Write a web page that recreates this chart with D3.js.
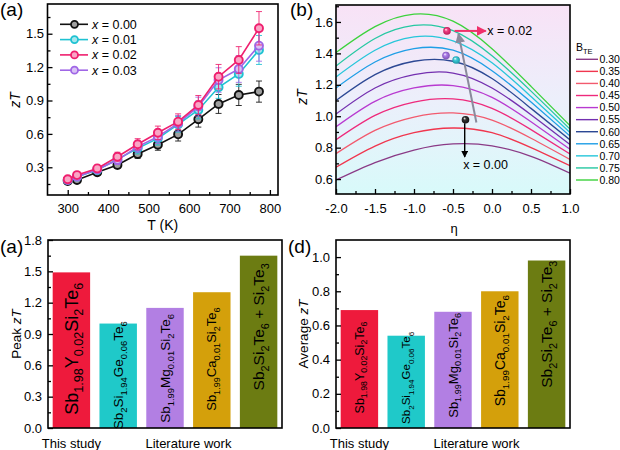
<!DOCTYPE html>
<html><head><meta charset="utf-8">
<script src="https://cdn.jsdelivr.net/npm/d3@7"></script>
<style>
body{margin:0;background:#fff;}
svg{display:block;font-family:"Liberation Sans",Arial,sans-serif;}
text{white-space:pre;}
</style></head><body>
<svg id="chart" width="620" height="450"></svg>
<script>
// ================= DATA =================
// Panel (a): zT vs T
const temps = [300, 323, 373, 423, 473, 523, 573, 623, 673, 723, 773];
const seriesLabels = ["0.00", "0.01", "0.02", "0.03"];
const zT_x000 = [0.177, 0.186, 0.255, 0.32, 0.42, 0.503, 0.596, 0.731, 0.869, 0.95, 0.98];
const zT_x001 = [0.186, 0.216, 0.276, 0.372, 0.47, 0.56, 0.686, 0.815, 1.019, 1.138, 1.354];
const zT_x002 = [0.192, 0.23, 0.29, 0.395, 0.507, 0.61, 0.71, 0.86, 1.114, 1.264, 1.549];
const zT_x003 = [0.186, 0.216, 0.28, 0.365, 0.485, 0.575, 0.695, 0.845, 1.084, 1.183, 1.393];
const err_x000 = [0.02, 0.02, 0.025, 0.03, 0.04, 0.05, 0.06, 0.07, 0.085, 0.095, 0.095];
const err_x001 = [0.02, 0.02, 0.03, 0.04, 0.05, 0.06, 0.07, 0.08, 0.1, 0.11, 0.13];
const err_x002 = [0.02, 0.02, 0.03, 0.04, 0.05, 0.06, 0.07, 0.085, 0.11, 0.12, 0.15];
const err_x003 = [0.02, 0.02, 0.03, 0.04, 0.05, 0.06, 0.07, 0.085, 0.11, 0.12, 0.14];
const tempTicks = [300, 400, 500, 600, 700, 800];
const tempMinorTicks = [350, 450, 550, 650, 750];
const zTTicksA = [0.3, 0.6, 0.9, 1.2, 1.5];
const zTMinorTicksA = [0.15, 0.45, 0.75, 1.05, 1.35, 1.65];

// Panel (b): zT vs reduced Fermi level eta for different B_TE
const etaPoints = [-2, -1.5, -1, -0.5, 0, 0.5, 1];
const bTE = ["0.30", "0.35", "0.40", "0.45", "0.50", "0.55", "0.60", "0.65", "0.70", "0.75", "0.80"];
const curve030 = [0.594, 0.705, 0.785, 0.824, 0.812, 0.745, 0.638];
const curve035 = [0.675, 0.81, 0.895, 0.925, 0.895, 0.80, 0.685];
const curve040 = [0.762, 0.91, 0.995, 1.021, 0.975, 0.86, 0.725];
const curve045 = [0.85, 1.005, 1.09, 1.11, 1.05, 0.915, 0.76];
const curve050 = [0.933, 1.095, 1.18, 1.195, 1.12, 0.965, 0.79];
const curve055 = [1.014, 1.18, 1.265, 1.275, 1.18, 1.01, 0.82];
const curve060 = [1.10, 1.265, 1.35, 1.35, 1.24, 1.05, 0.85];
const curve065 = [1.18, 1.345, 1.43, 1.42, 1.29, 1.09, 0.874];
const curve070 = [1.25, 1.42, 1.505, 1.48, 1.34, 1.125, 0.897];
const curve075 = [1.32, 1.495, 1.578, 1.545, 1.385, 1.16, 0.918];
const curve080 = [1.405, 1.57, 1.65, 1.605, 1.43, 1.19, 0.94];
const etaTicks = [-2, -1.5, -1, -0.5, 0, 0.5, 1];
const etaMinorTicks = [-1.75, -1.25, -0.75, -0.25, 0.25, 0.75];
const zTTicksB = [0.6, 0.8, 1.0, 1.2, 1.4, 1.6];
const zTMinorTicksB = [0.7, 0.9, 1.1, 1.3, 1.5, 1.7];
const ballSeries = ["0.00", "0.01", "0.03", "0.02"];
const ballEta = [-0.34, -0.46, -0.59, -0.577];
const ballZT = [0.978, 1.358, 1.386, 1.543];
const annotLabels = ["x = 0.02", "x = 0.00"];

// Panels (c) and (d): comparison bars
const compounds = [
  [["Sb", 0], ["1.98", 1], ["Y", 0], ["0.02", 1], ["Si", 0], ["2", 1], ["Te", 0], ["6", 1]],
  [["Sb", 0], ["2", 1], ["Si", 0], ["1.94", 1], ["Ge", 0], ["0.06", 1], ["Te", 0], ["6", 1]],
  [["Sb", 0], ["1.99", 1], ["Mg", 0], ["0.01", 1], ["Si", 0], ["2", 1], ["Te", 0], ["6", 1]],
  [["Sb", 0], ["1.99", 1], ["Ca", 0], ["0.01", 1], ["Si", 0], ["2", 1], ["Te", 0], ["6", 1]],
  [["Sb", 0], ["2", 1], ["Si", 0], ["2", 1], ["Te", 0], ["6", 1], [" + Si", 0], ["2", 1], ["Te", 0], ["3", 1]]
];
const peakZT = [1.49, 1.00, 1.15, 1.30, 1.65];
const avgZT = [0.69, 0.54, 0.68, 0.80, 0.98];
const peakTicks = [0.0, 0.3, 0.6, 0.9, 1.2, 1.5, 1.8];
const peakMinorTicks = [0.15, 0.45, 0.75, 1.05, 1.35, 1.65];
const avgTicks = [0.0, 0.2, 0.4, 0.6, 0.8, 1.0];
const avgMinorTicks = [0.1, 0.3, 0.5, 0.7, 0.9];
const groupLabels = ["This study", "Literature work"];

// ================= STYLE =================
const seriesColors = {"0.00": "#111111", "0.01": "#1fc2d2", "0.02": "#ef1f6e", "0.03": "#a066e6"};
const bteColors = ["#8a3a86", "#f0364e", "#f25a6e", "#ee2a7c", "#b83ad0", "#7430b0", "#2c4894", "#1e9ee6", "#26c6da", "#26c8a2", "#3cd23c"];
const barColors = ["#ee1a3c", "#1fc9c9", "#b27fe3", "#d4a00b", "#6c7c12"];
const labelSizeC = [18, 13.5, 13.5, 13, 15.5];
const labelSizeD = [12.5, 11.5, 13, 14, 15.5];
const labelShiftC = [-1.5, -0.5, 0.5, -1, -15];
const labelShiftD = [-1.5, -4, -4.5, -9, -20];

// ================= DRAW =================
const svg = d3.select("#chart");
const defs = svg.append("defs");

function frame(x0, y0, x1, y1) {
  svg.append("rect").attr("x", x0).attr("y", y0).attr("width", x1 - x0).attr("height", y1 - y0)
    .attr("fill", "none").attr("stroke", "#000").attr("stroke-width", 1.6);
}
function styleAxis(g, fs) {
  g.select(".domain").remove();
  g.selectAll("line").attr("stroke", "#000").attr("stroke-width", 1.3);
  g.selectAll("text").attr("font-size", fs).attr("fill", "#000")
    .attr("font-family", '"Liberation Sans", Arial, sans-serif');
}
function yAxis(x0, y, major, minor, pad, fmt) {
  const g = svg.append("g").attr("transform", `translate(${x0},0)`)
    .call(d3.axisLeft(y).tickValues(major).tickSize(-5).tickPadding(pad).tickFormat(fmt));
  styleAxis(g, 13);
  if (minor) {
    const m = svg.append("g").attr("transform", `translate(${x0},0)`)
      .call(d3.axisLeft(y).tickValues(minor).tickSize(-3).tickFormat(""));
    styleAxis(m, 13);
  }
}
function xAxis(y0, x, major, minor, pad, fmt) {
  const g = svg.append("g").attr("transform", `translate(0,${y0})`)
    .call(d3.axisBottom(x).tickValues(major).tickSize(-5).tickPadding(pad).tickFormat(fmt));
  styleAxis(g, 13);
  if (minor) {
    const m = svg.append("g").attr("transform", `translate(0,${y0})`)
      .call(d3.axisBottom(x).tickValues(minor).tickSize(-3).tickFormat(""));
    styleAxis(m, 13);
  }
}
function panelTag(txt, x, y) {
  svg.append("text").attr("x", x).attr("y", y).attr("font-size", 19).text(txt);
}
function lighten(c, k) { return d3.interpolateRgb(c, "#ffffff")(k); }

// ---------- Panel (a) top-left ----------
const A = {x0: 47.5, x1: 278, y0: 4, y1: 195};
const xA = d3.scaleLinear().domain([250, 820]).range([A.x0, A.x1]);
const yA = d3.scaleLinear().domain([0.051, 1.767]).range([A.y1, A.y0]);
const seriesA = [
  {name: "0.00", values: zT_x000, err: err_x000},
  {name: "0.01", values: zT_x001, err: err_x001},
  {name: "0.03", values: zT_x003, err: err_x003},
  {name: "0.02", values: zT_x002, err: err_x002}
];
const lineA = d3.line().x(d => xA(d[0])).y(d => yA(d[1]));
seriesA.forEach(s => {
  const col = seriesColors[s.name];
  const pts = temps.map((t, i) => [t, s.values[i], s.err[i]]);
  const g = svg.append("g");
  pts.forEach(p => {
    const xx = xA(p[0]), yt = yA(p[1] + p[2]), yb = yA(p[1] - p[2]);
    g.append("line").attr("x1", xx).attr("x2", xx).attr("y1", yt).attr("y2", yb).attr("stroke", col).attr("stroke-width", 1).attr("opacity", 0.85);
    [yt, yb].forEach(yy => g.append("line").attr("x1", xx - 3).attr("x2", xx + 3).attr("y1", yy).attr("y2", yy).attr("stroke", col).attr("stroke-width", 1).attr("opacity", 0.85));
  });
  g.append("path").datum(pts).attr("d", lineA).attr("fill", "none").attr("stroke", col).attr("stroke-width", 1.6);
  g.selectAll("circle").data(pts).join("circle")
    .attr("cx", d => xA(d[0])).attr("cy", d => yA(d[1])).attr("r", 4)
    .attr("fill", lighten(col, 0.6)).attr("stroke", col).attr("stroke-width", 1.9);
});
xAxis(A.y1, xA, tempTicks, tempMinorTicks, 9, d3.format("d"));
yAxis(A.x0, yA, zTTicksA, zTMinorTicksA, 3.5, d3.format(".1f"));
frame(A.x0, A.y0, A.x1, A.y1);
// legend (a)
seriesLabels.forEach((name, i) => {
  const col = seriesColors[name];
  const yy = 24.3 + i * 15.3;
  svg.append("line").attr("x1", 60).attr("x2", 88).attr("y1", yy).attr("y2", yy).attr("stroke", col).attr("stroke-width", 1.6);
  svg.append("circle").attr("cx", 74.5).attr("cy", yy).attr("r", 3.5).attr("fill", lighten(col, 0.6)).attr("stroke", col).attr("stroke-width", 1.8);
  const t = svg.append("text").attr("x", 92).attr("y", yy + 4.5).attr("font-size", 12.5);
  t.append("tspan").attr("font-style", "italic").text("x");
  t.append("tspan").text(" = " + name);
});
// axis titles (a)
{
  const t = svg.append("text").attr("transform", "translate(20,100) rotate(-90)").attr("text-anchor", "middle").attr("font-size", 14);
  t.append("tspan").attr("font-style", "italic").text("zT");
  svg.append("text").attr("x", (A.x0 + A.x1) / 2).attr("y", 230).attr("text-anchor", "middle").attr("font-size", 14).text("T (K)");
}
panelTag("(a)", 0, 16);

// ---------- Panel (b) top-right ----------
const B = {x0: 336, x1: 570, y0: 5, y1: 194};
const xB = d3.scaleLinear().domain([-2, 1]).range([B.x0, B.x1]);
const yB = d3.scaleLinear().domain([0.505, 1.708]).range([B.y1, B.y0]);
const bg = defs.append("linearGradient").attr("id", "bgB").attr("x1", 0).attr("y1", 0).attr("x2", 0).attr("y2", 1);
bg.append("stop").attr("offset", "0%").attr("stop-color", "#f8e2f6");
bg.append("stop").attr("offset", "50%").attr("stop-color", "#eceffb");
bg.append("stop").attr("offset", "100%").attr("stop-color", "#d8fafa");
svg.append("rect").attr("x", B.x0).attr("y", B.y0).attr("width", B.x1 - B.x0).attr("height", B.y1 - B.y0).attr("fill", "url(#bgB)");
defs.append("clipPath").attr("id", "clipB").append("rect").attr("x", B.x0).attr("y", B.y0).attr("width", B.x1 - B.x0).attr("height", B.y1 - B.y0);
const curvesB = [curve030, curve035, curve040, curve045, curve050, curve055, curve060, curve065, curve070, curve075, curve080];
const lineB = d3.line().x(d => xB(d[0])).y(d => yB(d[1])).curve(d3.curveNatural);
const gB = svg.append("g").attr("clip-path", "url(#clipB)");
curvesB.forEach((vals, i) => {
  gB.append("path").datum(etaPoints.map((e, j) => [e, vals[j]])).attr("d", lineB)
    .attr("fill", "none").attr("stroke", bteColors[i]).attr("stroke-width", 1.3);
});
// arrows
function arrowHead(id, color) {
  defs.append("marker").attr("id", id).attr("viewBox", "0 0 10 10").attr("refX", 9).attr("refY", 5)
    .attr("markerWidth", 5).attr("markerHeight", 5).attr("markerUnits", "strokeWidth").attr("orient", "auto")
    .append("path").attr("d", "M0,0 L10,5 L0,10 Z").attr("fill", color);
}
arrowHead("arrGray", "#8a8a9c");
arrowHead("arrPink", "#f0306a");
arrowHead("arrBlack", "#000");
svg.append("line").attr("x1", xB(-0.2)).attr("y1", yB(0.96)).attr("x2", xB(-0.43)).attr("y2", yB(1.525))
  .attr("stroke", "#8a8a9c").attr("stroke-width", 2).attr("marker-end", "url(#arrGray)");
svg.append("line").attr("x1", xB(-0.48)).attr("y1", yB(1.543)).attr("x2", xB(-0.08)).attr("y2", yB(1.543))
  .attr("stroke", "#f0306a").attr("stroke-width", 2).attr("marker-end", "url(#arrPink)");
svg.append("line").attr("x1", xB(-0.35)).attr("y1", yB(0.955)).attr("x2", xB(-0.35)).attr("y2", yB(0.74))
  .attr("stroke", "#000").attr("stroke-width", 1.4).attr("marker-end", "url(#arrBlack)");
// balls
ballSeries.forEach((name, i) => {
  const col = seriesColors[name];
  const gid = "ball" + i;
  const rg = defs.append("radialGradient").attr("id", gid).attr("cx", "50%").attr("cy", "50%").attr("r", "55%").attr("fx", "35%").attr("fy", "30%");
  rg.append("stop").attr("offset", "0%").attr("stop-color", "#ffffff");
  rg.append("stop").attr("offset", "35%").attr("stop-color", lighten(col, 0.15));
  rg.append("stop").attr("offset", "100%").attr("stop-color", d3.color(col).darker(0.8));
  svg.append("circle").attr("cx", xB(ballEta[i])).attr("cy", yB(ballZT[i])).attr("r", 3.8).attr("fill", `url(#${gid})`);
});
svg.append("text").attr("x", xB(-0.06)).attr("y", yB(1.543) + 4.5).attr("font-size", 12.5).text(annotLabels[0]);
svg.append("text").attr("x", xB(-0.37)).attr("y", yB(0.69) + 4.5).attr("font-size", 12.5).text(annotLabels[1]);
xAxis(B.y1, xB, etaTicks, etaMinorTicks, 9.5, d => d.toFixed(1));
yAxis(B.x0, yB, zTTicksB, zTMinorTicksB, 3, d3.format(".1f"));
frame(B.x0, B.y0, B.x1, B.y1);
// legend (b)
{
  const t = svg.append("text").attr("x", 576).attr("y", 51).attr("font-size", 10.5);
  t.append("tspan").text("B");
  t.append("tspan").attr("font-size", 7.5).attr("dy", 2.5).text("TE");
  bTE.forEach((b, i) => {
    const yy = 59.3 + i * 12.07;
    svg.append("line").attr("x1", 576).attr("x2", 598).attr("y1", yy).attr("y2", yy).attr("stroke", bteColors[i]).attr("stroke-width", 1.4);
    svg.append("text").attr("x", 599.5).attr("y", yy + 3.8).attr("font-size", 10.5).text(b);
  });
  const z = svg.append("text").attr("transform", "translate(307,97) rotate(-90)").attr("text-anchor", "middle").attr("font-size", 14);
  z.append("tspan").attr("font-style", "italic").text("zT");
  svg.append("text").attr("x", 454).attr("y", 233).attr("text-anchor", "middle").attr("font-size", 13).text("\u03b7");
}
panelTag("(b)", 290, 16);

// ---------- Bar panels ----------
function barLabel(parts, cx, cy, fs) {
  const t = svg.append("text").attr("transform", `translate(${cx + 0.36 * fs},${cy}) rotate(-90)`)
    .attr("text-anchor", "middle").attr("font-size", fs).attr("fill", "#000");
  let shift = 0;
  parts.forEach(([s, sub]) => {
    const ts = t.append("tspan").text(s);
    if (sub) {
      ts.attr("font-size", fs * 0.7);
      const target = fs * 0.28;
      if (target - shift !== 0) ts.attr("dy", target - shift);
      shift = target;
    } else if (shift) {
      ts.attr("dy", -shift);
      shift = 0;
    }
  });
}
function barPanel(P, values, domainMax, major, minor, sizes, shifts, title, titleX) {
  const x = d3.scaleBand().domain(d3.range(values.length)).range([P.x0, P.x1]).paddingInner(0.2).paddingOuter(0.1);
  const y = d3.scaleLinear().domain([0, domainMax]).range([P.y1, P.y0]);
  svg.append("g").selectAll("rect").data(values).join("rect")
    .attr("x", (d, i) => x(i)).attr("width", x.bandwidth())
    .attr("y", d => y(d)).attr("height", d => y(0) - y(d))
    .attr("fill", (d, i) => barColors[i]);
  values.forEach((v, i) => {
    barLabel(compounds[i], x(i) + x.bandwidth() / 2, (y(v) + y(0)) / 2 + shifts[i], sizes[i]);
  });
  yAxis(P.x0, y, major, minor, 6, d3.format(".1f"));
  frame(P.x0, P.y0, P.x1, P.y1);
  const c0 = x(0) + x.bandwidth() / 2;
  const c1 = x(1) + x.bandwidth() / 2, c4 = x(4) + x.bandwidth() / 2;
  svg.append("text").attr("x", c0).attr("y", 447.5).attr("text-anchor", "middle").attr("font-size", 13).text(groupLabels[0]);
  svg.append("text").attr("x", (c1 + c4) / 2).attr("y", 447.5).attr("text-anchor", "middle").attr("font-size", 13).text(groupLabels[1]);
  const t = svg.append("text").attr("transform", `translate(${titleX},${(P.y0 + P.y1) / 2}) rotate(-90)`).attr("text-anchor", "middle").attr("font-size", 13.5);
  t.append("tspan").text(title + " ");
  t.append("tspan").attr("font-style", "italic").text("zT");
}
barPanel({x0: 48, x1: 282, y0: 240, y1: 428}, peakZT, 1.8, peakTicks, peakMinorTicks, labelSizeC, labelShiftC, "Peak", 21);
barPanel({x0: 336, x1: 570, y0: 240, y1: 428}, avgZT, 1.1, avgTicks, avgMinorTicks, labelSizeD, labelShiftD, "Average", 308);
panelTag("(a)", 0, 253);
panelTag("(d)", 288, 253);
</script>
</body></html>
